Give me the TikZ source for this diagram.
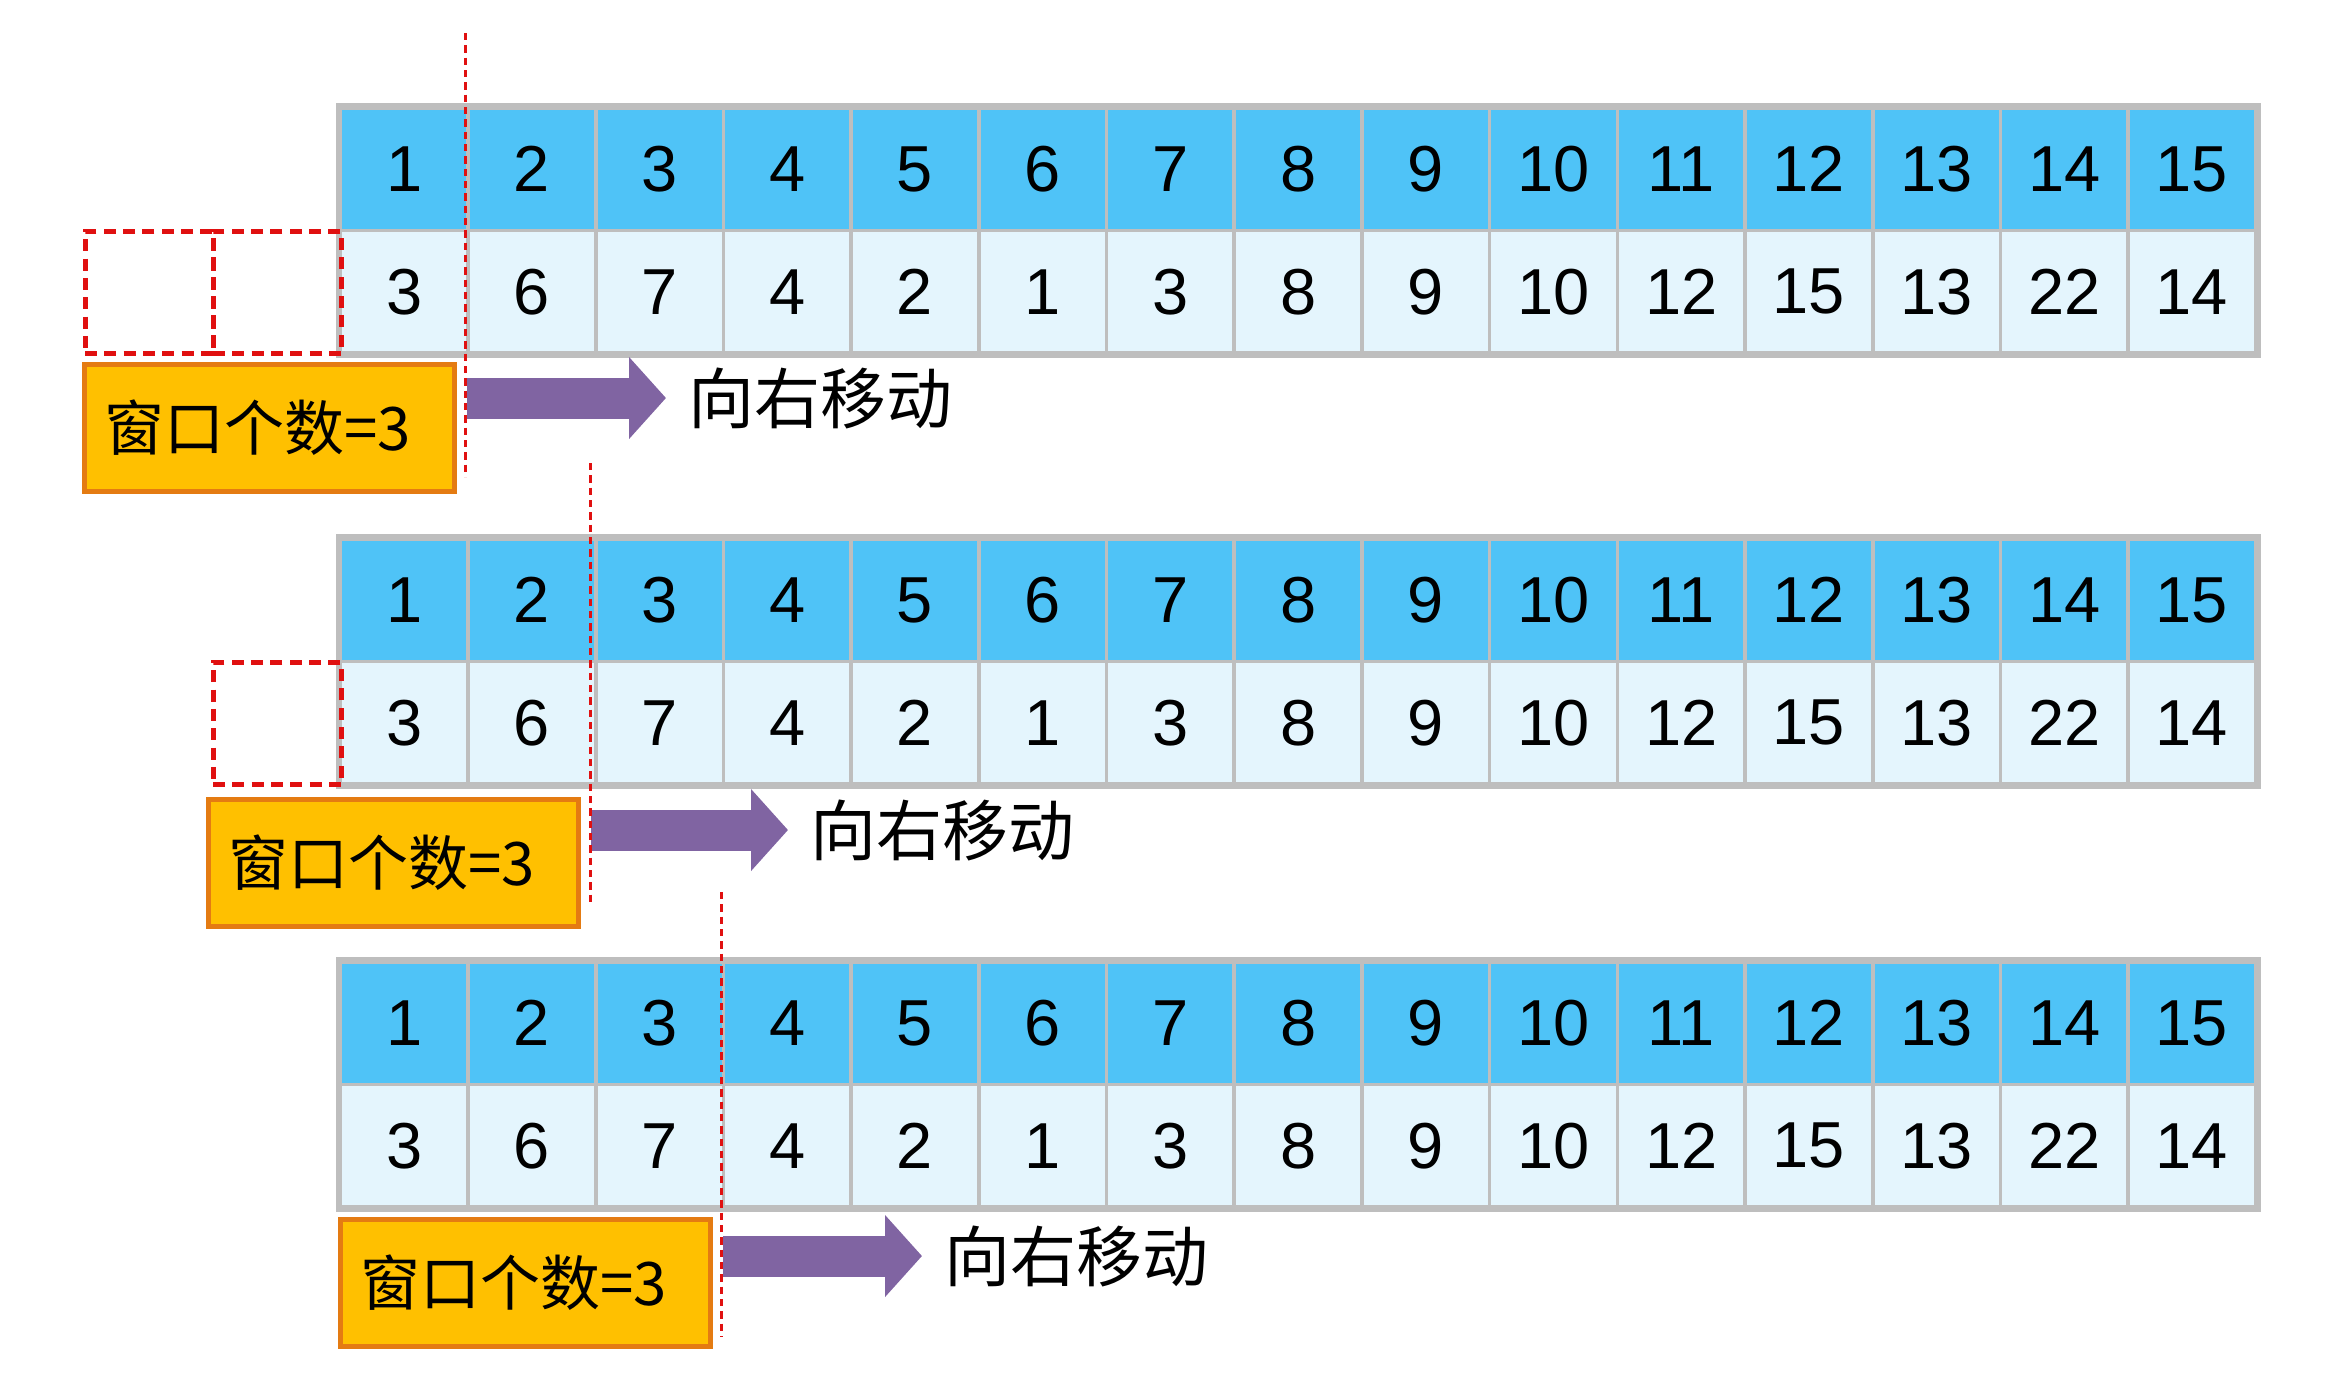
\documentclass[tikz,border=0pt]{standalone}
\usepackage{fontspec}
\setmainfont{Liberation Sans}
\newfontfamily\cjk{Noto Sans CJK SC}
\usetikzlibrary{arrows.meta}
\definecolor{hdrblue}{HTML}{4FC3F7}
\definecolor{datablue}{HTML}{E4F5FD}
\definecolor{gridgray}{HTML}{BEBEBE}
\definecolor{boxorange}{HTML}{FFC000}
\definecolor{boxedge}{HTML}{E47B12}
\definecolor{arrowpurple}{HTML}{8064A2}
\definecolor{winred}{HTML}{E01010}
\begin{document}
\begin{tikzpicture}[x=0.3pt,y=-0.3pt,
  cellbase/.style={anchor=north west,inner sep=0pt,minimum width=38.31pt,minimum height=36.81pt,
    draw=gridgray,line width=1.1pt,font=\fontsize{19.5pt}{20pt}\selectfont},
  hcell/.style={cellbase,fill=hdrblue},
  dcell/.style={cellbase,fill=datablue},
  tableframe/.style={draw=gridgray,line width=1.7pt},
  emptycell/.style={anchor=north west,inner sep=0pt,minimum width=38.4pt,minimum height=36.81pt,
    draw=winred,line width=1.5pt,dash pattern=on 3.6pt off 2.2pt},
  winsize/.style={anchor=north west,fill=boxorange,draw=boxedge,line width=1.5pt,
    minimum height=38pt,inner xsep=6pt,inner ysep=0pt,text width=99pt,align=left,
    font=\cjk\fontsize{18pt}{20pt}\selectfont},
  movetext/.style={anchor=west,inner sep=0pt,font=\cjk\fontsize{19.8pt}{22pt}\selectfont},
  movearrow/.style={draw=arrowpurple,line width=12.3pt,
    -{Triangle[length=11.1pt,width=24pt]},shorten >=6.6pt},
  redline/.style={draw=winred,line width=0.9pt,dash pattern=on 2.2pt off 1.5pt}
]
\useasboundingbox (0,0) rectangle (2336,1390);

% tables
\foreach \t/\ty in {1/106,2/537,3/960}{
  \foreach \v [count=\i] in {3,6,7,4,2,1,3,8,9,10,12,15,13,22,14}{
    \node[hcell] (t\t-h\i) at ({338.5+(\i-1)*127.7},\ty) {\i};
    \node[dcell] (t\t-d\i) at ({338.5+(\i-1)*127.7},{\ty+122.7}) {\v};
  }
  \draw[tableframe] (t\t-h1.north west) rectangle (t\t-d15.south east);
}

% empty window cells
\node[emptycell] (e1a) at (82.5,228.7) {};
\node[emptycell] (e1b) at (210.5,228.7) {};
\node[emptycell] (e2a) at (210.5,659.7) {};

% window size boxes
\node[winsize] (w1) at (82,362) {窗口个数=3};
\node[winsize] (w2) at (206,797) {窗口个数=3};
\node[winsize] (w3) at (338,1217) {窗口个数=3};

% move-right labels and arrows
\node[movetext] (m1) at (688,398) {向右移动};
\node[movetext] (m2) at (810,830) {向右移动};
\node[movetext] (m3) at (944,1256) {向右移动};
\coordinate (a1) at (467,398);
\coordinate (a2) at (591,830);
\coordinate (a3) at (723,1256);
\draw[movearrow] (a1) -- (m1.west);
\draw[movearrow] (a2) -- (m2.west);
\draw[movearrow] (a3) -- (m3.west);

% window boundary lines
\coordinate (v1t) at (465,33);   \coordinate (v1b) at (465,477);
\coordinate (v2t) at (590,463);  \coordinate (v2b) at (590,905);
\coordinate (v3t) at (721,892);  \coordinate (v3b) at (721,1337);
\draw[redline] (v1t) -- (v1b);
\draw[redline] (v2t) -- (v2b);
\draw[redline] (v3t) -- (v3b);
\end{tikzpicture}
\end{document}
